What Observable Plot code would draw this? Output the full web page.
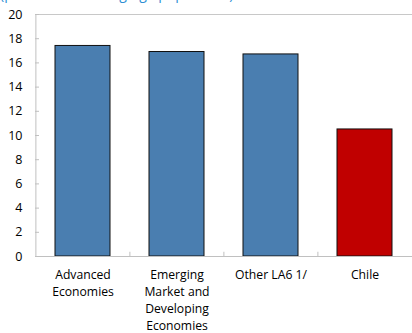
<!DOCTYPE html>
<html>
<head>
<meta charset="utf-8">
<script src="https://cdn.jsdelivr.net/npm/d3@7"></script>
<script src="https://cdn.jsdelivr.net/npm/@observablehq/plot@0.6"></script>
<style>
  html, body { margin: 0; padding: 0; background: #fff; overflow: hidden; }
  #wrap { position: relative; width: 412px; height: 333px; }
  #title { position: absolute; left: 0; top: -16px; font: 14px "Open Sans", "Noto Sans", sans-serif; color: #2E8FD4; white-space: nowrap; z-index: 2; }
  #chart { position: absolute; left: 0; top: 0; }
</style>
</head>
<body>
<div id="wrap">
  <div id="chart"></div>
  <div id="title">(percent of working-age population)</div>
</div>
<script>
const categories = ["Advanced\nEconomies", "Emerging\nMarket and\nDeveloping\nEconomies", "Other LA6 1/", "Chile"];
const values = [17.4, 16.9, 16.7, 10.5];
const colors = ["#4A7EB0", "#4A7EB0", "#4A7EB0", "#C00000"];
const yTicks = [0, 2, 4, 6, 8, 10, 12, 14, 16, 18, 20];

const data = categories.map((c, i) => ({category: c, value: values[i], color: colors[i]}));

const W = 412, H = 333, ML = 35, MR = 0, MT = 14, MB = 77;
const step = (W - ML - MR) / categories.length;

const plot = Plot.plot({
  width: W,
  height: H,
  marginLeft: ML,
  marginRight: MR,
  marginTop: MT,
  marginBottom: MB,
  style: {fontFamily: "'Open Sans', 'Noto Sans', sans-serif", fontSize: "12px", color: "#000", background: "transparent"},
  x: {domain: categories, paddingInner: 0.42, paddingOuter: 0.21, axis: null},
  y: {domain: [0, 20], axis: null},
  marks: [
    Plot.ruleY([20], {stroke: "#c8c8c8"}),
    Plot.ruleX([categories[0]], {dx: -step / 2, y1: 0, y2: 20, stroke: "#c0c0c0"}),
    Plot.barY(data, {x: "category", y: "value", fill: "color", stroke: "#111", strokeWidth: 1}),
    Plot.ruleY([0], {stroke: "#c0c0c0"}),
    Plot.axisY({ticks: yTicks, tickSize: 4, dx: 4, tickFormat: () => "", label: null, stroke: "#c0c0c0"}),
    Plot.axisY({ticks: yTicks, tickSize: 0, tickPadding: 13, label: null, fill: "#000", fontSize: 12.5}),
    Plot.ruleX(categories.slice(1), {x: d => d, dx: -step / 2, y1: 0, y2: 0.35, stroke: "#c0c0c0"}),
    Plot.axisX({tickSize: 0, tickPadding: 10, label: null, lineHeight: 1.4, fill: "#000", fontSize: 12.2})
  ]
});
document.getElementById("chart").appendChild(plot);
</script>
</body>
</html>
